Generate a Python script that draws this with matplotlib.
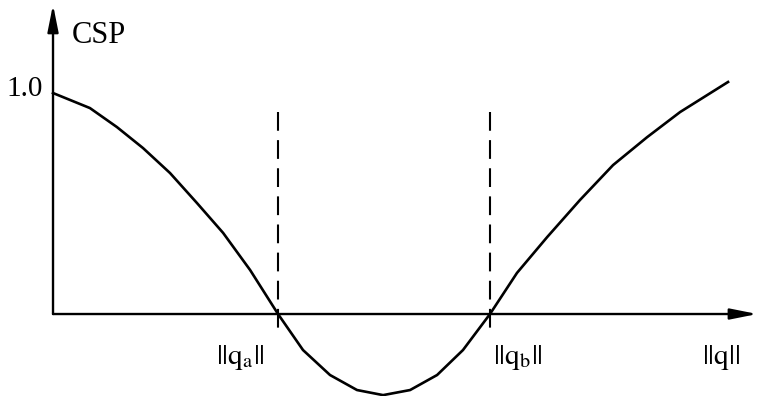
import matplotlib
matplotlib.use("Agg")
import matplotlib.pyplot as plt

# curve: ||q|| (scaled so ||qa|| = 1) and CSP
q = [0.0, 0.164, 0.284, 0.40, 0.52, 0.64, 0.756, 0.876, 1.0, 1.111, 1.231,
     1.351, 1.467, 1.587, 1.707, 1.822, 1.942, 2.062, 2.196, 2.342, 2.489,
     2.64, 2.787, 3.0]
csp = [1.0, 0.932, 0.846, 0.751, 0.638, 0.502, 0.367, 0.199, 0.0, -0.163,
       -0.276, -0.344, -0.367, -0.344, -0.276, -0.163, 0.0, 0.186, 0.348,
       0.516, 0.674, 0.80, 0.914, 1.05]

q_marks = [1.0, 1.942]
q_labels = [r'$||\mathrm{q}_\mathrm{a}||$', r'$||\mathrm{q}_\mathrm{b}||$']
y_tick = 1.0
y_tick_label = '1.0'

plt.rcParams['mathtext.fontset'] = 'stix'
serif = ['Liberation Serif', 'DejaVu Serif']

fig = plt.figure(figsize=(7.6, 3.96), dpi=100)
ax = fig.add_axes([0, 0, 1, 1])
ax.set_xlim(-0.2356, 3.142)
ax.set_ylim(-0.371, 1.421)
ax.axis('off')

# axes with arrow heads
arrow = dict(arrowstyle='-|>,head_length=0.9,head_width=0.18', lw=1.7,
             color='black', shrinkA=0, shrinkB=0, mutation_scale=18)
ax.annotate('', xy=(3.13, 0), xytext=(0, 0), arrowprops=arrow)
ax.annotate('', xy=(0, 1.40), xytext=(0, 0), arrowprops=arrow)

# the curve
ax.plot(q, csp, color='black', lw=1.9, solid_joinstyle='round')

# dashed markers at qa and qb, drawn top-down so a full dash starts at the top
for qm in q_marks:
    ax.plot([qm, qm], [0.914, -0.08], color='black', lw=1.5,
            dashes=(9, 4.5), dash_capstyle='butt')

# texts
ax.text(0.084, 1.262, 'CSP', fontsize=22, family=serif, ha='left', va='center')
ax.text(-0.044, y_tick + 0.02, y_tick_label, fontsize=21, family=serif,
        ha='right', va='center')
ax.text(q_marks[0] - 0.058, -0.199, q_labels[0], fontsize=21, ha='right',
        va='center')
ax.text(q_marks[1] + 0.014, -0.199, q_labels[1], fontsize=21, ha='left',
        va='center')
ax.text(2.97, -0.195, r'$||\mathrm{q}||$', fontsize=21, ha='center',
        va='center')

fig.savefig('out.png', dpi=100)
